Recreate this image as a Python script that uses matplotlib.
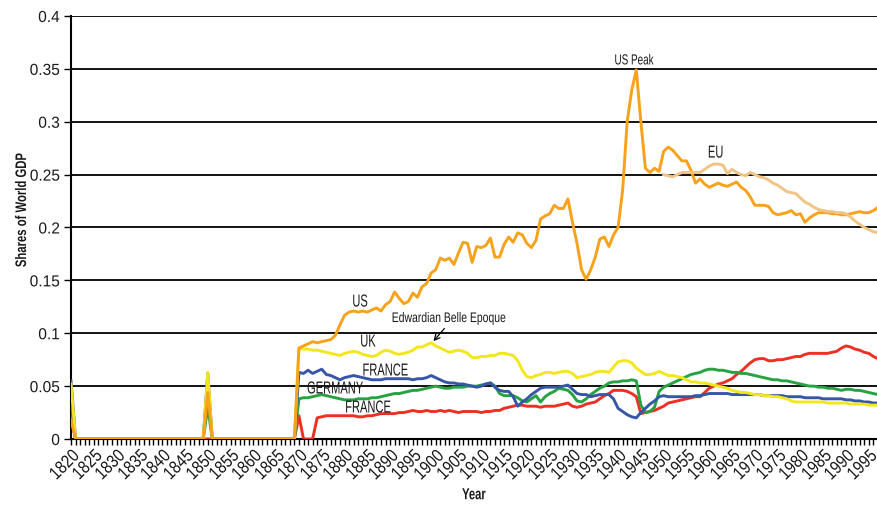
import matplotlib
matplotlib.use("Agg")
import matplotlib.pyplot as plt
from matplotlib.ticker import MultipleLocator, FuncFormatter
from matplotlib.patheffects import AbstractPathEffect
from matplotlib.transforms import Affine2D

plt.rcParams['font.family'] = ['Liberation Sans', 'DejaVu Sans']

# ---------------- data (shares of world GDP) ----------------
EARLY_YEARS = [1820, 1821, 1849, 1850, 1851, 1869]
ANNUAL_YEARS = list(range(1870, 1999))
YEARS = EARLY_YEARS + ANNUAL_YEARS
EU_YEARS = list(range(1950, 1999))

us = [0.018, 0, 0, 0.044, 0, 0,
      0.086, 0.088, 0.090, 0.092, 0.091, 0.092, 0.093, 0.094, 0.098, 0.108,
      0.117, 0.120, 0.121, 0.120, 0.121, 0.120, 0.122, 0.124, 0.121, 0.127,
      0.130, 0.139, 0.133, 0.128, 0.130, 0.138, 0.134, 0.144, 0.147, 0.157,
      0.160, 0.171, 0.169, 0.171, 0.165, 0.176, 0.186, 0.185, 0.167, 0.182,
      0.181, 0.183, 0.190, 0.172, 0.172, 0.184, 0.191, 0.186, 0.195, 0.193,
      0.185, 0.181, 0.188, 0.208, 0.211, 0.213, 0.221, 0.218, 0.218, 0.227,
      0.205, 0.185, 0.160, 0.151, 0.160, 0.172, 0.189, 0.191, 0.182, 0.193,
      0.200, 0.235, 0.300, 0.330, 0.349, 0.300, 0.256, 0.252, 0.256, 0.253,
      0.272, 0.276, 0.273, 0.268, 0.263, 0.263, 0.254, 0.242, 0.246, 0.241,
      0.238, 0.240, 0.242, 0.240, 0.239, 0.241, 0.243, 0.238, 0.235, 0.229,
      0.221, 0.221, 0.221, 0.220, 0.214, 0.212, 0.213, 0.214, 0.216, 0.212,
      0.213, 0.205, 0.209, 0.212, 0.214, 0.214, 0.214, 0.213, 0.213, 0.212,
      0.212, 0.213, 0.214, 0.215, 0.214, 0.214, 0.216, 0.219, 0.222]

uk = [0.052, 0, 0, 0.063, 0, 0,
      0.086, 0.085, 0.085, 0.084, 0.084, 0.083, 0.082, 0.081, 0.080, 0.079,
      0.081, 0.082, 0.083, 0.082, 0.080, 0.079, 0.078, 0.079, 0.082, 0.084,
      0.083, 0.081, 0.080, 0.081, 0.082, 0.084, 0.087, 0.087, 0.089, 0.091,
      0.088, 0.086, 0.084, 0.082, 0.083, 0.084, 0.083, 0.081, 0.077, 0.077,
      0.078, 0.078, 0.079, 0.079, 0.081, 0.081, 0.080, 0.079, 0.074, 0.065,
      0.059, 0.058, 0.060, 0.061, 0.063, 0.063, 0.062, 0.063, 0.064, 0.064,
      0.062, 0.058, 0.059, 0.060, 0.061, 0.063, 0.064, 0.064, 0.063, 0.068,
      0.073, 0.074, 0.074, 0.072, 0.067, 0.064, 0.061, 0.061, 0.062, 0.064,
      0.062, 0.060, 0.060, 0.059, 0.058, 0.056, 0.054, 0.054, 0.053, 0.053,
      0.052, 0.051, 0.050, 0.049, 0.048, 0.046, 0.045, 0.044, 0.044, 0.043,
      0.042, 0.042, 0.041, 0.041, 0.040, 0.040, 0.039, 0.038, 0.036, 0.035,
      0.035, 0.035, 0.035, 0.035, 0.035, 0.035, 0.034, 0.034, 0.034, 0.034,
      0.034, 0.033, 0.033, 0.033, 0.033, 0.032, 0.032, 0.032, 0.032]

france = [0.055, 0, 0, 0.062, 0, 0,
          0.063, 0.062, 0.065, 0.062, 0.064, 0.066, 0.061, 0.060, 0.058, 0.056,
          0.058, 0.059, 0.060, 0.059, 0.058, 0.057, 0.056, 0.056, 0.056, 0.057,
          0.057, 0.057, 0.057, 0.057, 0.057, 0.056, 0.057, 0.057, 0.058, 0.060,
          0.058, 0.056, 0.054, 0.053, 0.053, 0.052, 0.052, 0.051, 0.050, 0.049,
          0.050, 0.052, 0.053, 0.049, 0.046, 0.045, 0.045, 0.040, 0.031, 0.035,
          0.038, 0.042, 0.045, 0.048, 0.049, 0.049, 0.049, 0.049, 0.050, 0.051,
          0.047, 0.043, 0.042, 0.042, 0.040, 0.041, 0.042, 0.042, 0.042, 0.038,
          0.029, 0.026, 0.023, 0.021, 0.020, 0.025, 0.029, 0.033, 0.036, 0.040,
          0.041, 0.040, 0.040, 0.040, 0.040, 0.040, 0.040, 0.041, 0.041, 0.042,
          0.043, 0.043, 0.043, 0.043, 0.043, 0.042, 0.042, 0.042, 0.042, 0.042,
          0.042, 0.042, 0.041, 0.041, 0.041, 0.041, 0.041, 0.040, 0.040, 0.040,
          0.040, 0.039, 0.039, 0.039, 0.039, 0.038, 0.038, 0.038, 0.038, 0.038,
          0.037, 0.037, 0.036, 0.036, 0.035, 0.035, 0.034, 0.034, 0.034]

germany = [0.020, 0, 0, 0.030, 0, 0,
           0.038, 0.039, 0.039, 0.040, 0.041, 0.042, 0.041, 0.040, 0.039, 0.038,
           0.037, 0.037, 0.037, 0.038, 0.038, 0.038, 0.039, 0.039, 0.040, 0.041,
           0.042, 0.043, 0.043, 0.044, 0.045, 0.046, 0.046, 0.047, 0.048, 0.049,
           0.050, 0.049, 0.048, 0.048, 0.049, 0.049, 0.049, 0.050, 0.050, 0.050,
           0.051, 0.052, 0.053, 0.050, 0.043, 0.041, 0.041, 0.041, 0.039, 0.036,
           0.035, 0.038, 0.041, 0.035, 0.040, 0.043, 0.045, 0.048, 0.047, 0.046,
           0.042, 0.036, 0.035, 0.038, 0.042, 0.045, 0.048, 0.050, 0.053, 0.054,
           0.054, 0.055, 0.055, 0.056, 0.055, 0.032, 0.025, 0.026, 0.030, 0.045,
           0.049, 0.051, 0.053, 0.055, 0.057, 0.059, 0.061, 0.062, 0.063, 0.065,
           0.066, 0.066, 0.065, 0.065, 0.064, 0.063, 0.063, 0.062, 0.062, 0.061,
           0.060, 0.059, 0.058, 0.057, 0.056, 0.056, 0.055, 0.055, 0.054, 0.053,
           0.052, 0.051, 0.050, 0.050, 0.049, 0.049, 0.048, 0.048, 0.047, 0.046,
           0.047, 0.047, 0.046, 0.046, 0.045, 0.044, 0.043, 0.042, 0.041]

japan = [0.029, 0, 0, 0.0, 0, 0,
         0.022, 0.0, 0.0, 0.0, 0.020, 0.021, 0.022, 0.022, 0.022, 0.022,
         0.022, 0.022, 0.022, 0.021, 0.021, 0.022, 0.022, 0.023, 0.024, 0.024,
         0.024, 0.024, 0.025, 0.025, 0.026, 0.027, 0.026, 0.026, 0.027, 0.026,
         0.026, 0.027, 0.026, 0.027, 0.026, 0.025, 0.026, 0.026, 0.026, 0.026,
         0.025, 0.026, 0.026, 0.027, 0.027, 0.029, 0.030, 0.031, 0.032, 0.032,
         0.031, 0.031, 0.031, 0.030, 0.031, 0.031, 0.031, 0.032, 0.033, 0.034,
         0.031, 0.030, 0.031, 0.033, 0.034, 0.035, 0.038, 0.041, 0.043, 0.046,
         0.046, 0.046, 0.045, 0.043, 0.040, 0.024, 0.025, 0.026, 0.027, 0.029,
         0.031, 0.034, 0.035, 0.036, 0.037, 0.038, 0.039, 0.040, 0.040, 0.044,
         0.048, 0.050, 0.052, 0.053, 0.055, 0.057, 0.061, 0.064, 0.068, 0.072,
         0.075, 0.076, 0.076, 0.074, 0.074, 0.075, 0.075, 0.076, 0.077, 0.078,
         0.078, 0.080, 0.081, 0.081, 0.081, 0.081, 0.081, 0.082, 0.083, 0.086,
         0.088, 0.087, 0.085, 0.084, 0.082, 0.081, 0.078, 0.076, 0.074]

eu = [0.250, 0.249, 0.248, 0.250, 0.252, 0.252, 0.252, 0.252, 0.252, 0.255,
      0.258, 0.260, 0.260, 0.259, 0.251, 0.255, 0.252, 0.250, 0.249, 0.252,
      0.250, 0.248, 0.247, 0.245, 0.242, 0.240, 0.237, 0.234, 0.233, 0.232,
      0.228, 0.224, 0.222, 0.219, 0.217, 0.216, 0.215, 0.215, 0.214, 0.214,
      0.213, 0.210, 0.206, 0.203, 0.200, 0.198, 0.196, 0.195, 0.194]

Y_TICKS = [0, 0.05, 0.1, 0.15, 0.2, 0.25, 0.3, 0.35, 0.4]


# ---------------- condensed-text effect ----------------
class Condense(AbstractPathEffect):
    """Horizontally squeeze a text path around its centre / right edge."""

    def __init__(self, sx, anchor='center'):
        super().__init__()
        self.sx = sx
        self.anchor = anchor

    def draw_path(self, renderer, gc, tpath, affine, rgbFace=None):
        ext = tpath.get_extents()
        if self.anchor == 'right':
            p = ext.x1
        elif self.anchor == 'left':
            p = ext.x0
        else:
            p = 0.5 * (ext.x0 + ext.x1)
        t = Affine2D().translate(-p, 0).scale(self.sx, 1).translate(p, 0) + affine
        renderer.draw_path(gc, tpath, t, rgbFace)


# ---------------- styling ----------------
C_US = '#F7A21B'
C_EU = '#EFC485'
C_UK = '#F2E71C'
C_FR = '#3656A6'
C_DE = '#27A243'
C_JP = '#EE3024'
LW = 2.1
TXT = '#1a1a1a'

fig = plt.figure(figsize=(8.77, 5.11), dpi=100)
ax = fig.add_axes([71 / 877, 72 / 511, 806 / 877, 423 / 511])

ax.plot(YEARS, japan, color=C_JP, lw=LW, zorder=3)
ax.plot(YEARS, germany, color=C_DE, lw=LW, zorder=3)
ax.plot(YEARS, france, color=C_FR, lw=LW, zorder=3)
ax.plot(YEARS, uk, color=C_UK, lw=LW, zorder=3)
ax.plot(YEARS, us, color=C_US, lw=LW, zorder=3)
ax.plot(EU_YEARS, eu, color=C_EU, lw=LW, zorder=3)

ax.set_xlim(1820, 1996.8)
ax.set_ylim(0, 0.4)
ax.set_yticks(Y_TICKS)
ax.yaxis.set_major_formatter(FuncFormatter(lambda v, p: '%g' % round(v, 2)))
ax.xaxis.set_major_locator(MultipleLocator(5))
ax.xaxis.set_minor_locator(MultipleLocator(1))
ax.xaxis.set_major_formatter(FuncFormatter(lambda v, p: '%d' % round(v)))

ax.tick_params(axis='x', which='both', direction='out', length=4, width=1,
               color='black', labelsize=13, pad=2, labelcolor=TXT)
ax.tick_params(axis='y', which='major', direction='out', length=5, width=1,
               color='black', labelsize=11.5, pad=3, labelcolor=TXT)
for lab in ax.get_xticklabels():
    lab.set_rotation(45)
    lab.set_ha('right')
    lab.set_rotation_mode('anchor')
    lab.set_path_effects([Condense(0.84, 'right')])
for lab in ax.get_yticklabels():
    lab.set_path_effects([Condense(0.97, 'right')])

ax.grid(axis='y', color='#111111', lw=1.4, zorder=1)
ax.set_axisbelow(True)
for s in ['top', 'right']:
    ax.spines[s].set_visible(False)
ax.spines['left'].set_color('black')
ax.spines['left'].set_linewidth(1.5)
ax.spines['bottom'].set_color('black')
ax.spines['bottom'].set_linewidth(1.5)

yl = ax.set_ylabel('Shares of World GDP', fontsize=11, fontweight='bold', color=TXT)
yl.set_path_effects([Condense(0.74, 'center')])
ax.yaxis.set_label_coords((29 - 71) / 806, (439 - 210) / 423)
xl = ax.set_xlabel('Year', fontsize=11.5, fontweight='bold', color=TXT)
xl.set_path_effects([Condense(0.7, 'center')])
ax.xaxis.set_label_coords((474 - 71) / 806, -0.114)

lab_kw = dict(ha='center', va='center', fontsize=12.5, color=TXT, zorder=5)
big = [Condense(0.64, 'center')]
for x, y, s in [(1883.4, 0.1295, 'US'), (1885.1, 0.0917, 'UK'),
                (1888.9, 0.0643, 'FRANCE'), (1877.9, 0.0473, 'GERMANY'),
                (1885.1, 0.0293, 'FRANCE'), (1961.4, 0.2704, 'EU')]:
    ax.text(x, y, s, path_effects=big, **lab_kw)

ax.text(1943.5, 0.358, 'US Peak', ha='center', va='center', fontsize=10.5,
        color=TXT, zorder=5, path_effects=[Condense(0.68, 'center')])
ax.text(1902.9, 0.1144, 'Edwardian Belle Epoque', ha='center', va='center',
        fontsize=10, color=TXT, zorder=5, path_effects=[Condense(0.75, 'center')])
ax.annotate('', xy=(1899.3, 0.0915), xytext=(1901.9, 0.1045),
            arrowprops=dict(arrowstyle='->', color='black', lw=0.9,
                            shrinkA=0, shrinkB=1), zorder=5)

fig.savefig('out.png', dpi=100)
